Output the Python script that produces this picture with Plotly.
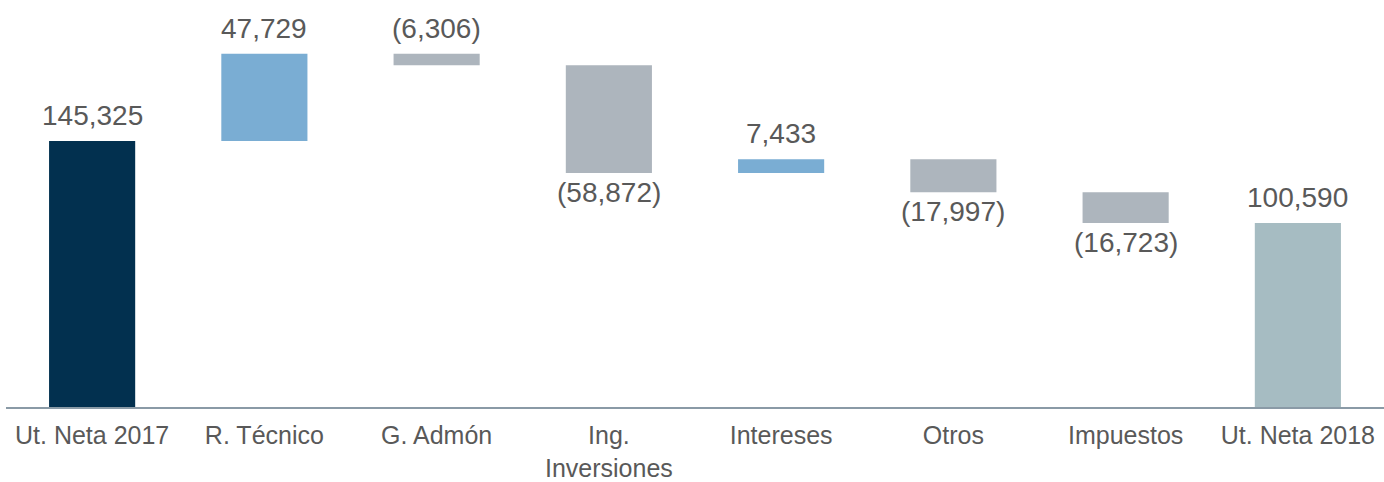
import plotly.graph_objects as go

categories = ["Ut. Neta 2017", "R. Técnico", "G. Admón", "Ing.<br>Inversiones",
              "Intereses", "Otros", "Impuestos", "Ut. Neta 2018"]
values = [145325, 47729, -6306, -58872, 7433, -17997, -16723, 100590]
kinds = ["total", "delta", "delta", "delta", "delta", "delta", "delta", "total"]

# style
label_side = ["above", "above", "above", "below", "above", "below", "below", "above"]
C_START = "#02304F"
C_UP = "#7AADD3"
C_DOWN = "#ADB5BD"
C_END = "#A6BCC2"
TEXT = "#595959"
FONT = "Liberation Sans, Arial, sans-serif"

bases, heights, colors, tops, bottoms = [], [], [], [], []
running = 0
for i, (v, k) in enumerate(zip(values, kinds)):
    if k == "total":
        b, h = 0, v
        running = v
        colors.append(C_START if i == 0 else C_END)
    else:
        b = min(running, running + v)
        h = abs(v)
        running += v
        colors.append(C_UP if v > 0 else C_DOWN)
    bases.append(b)
    heights.append(h)
    tops.append(b + h)
    bottoms.append(b)

def fmt(v):
    s = f"{abs(v):,}"
    return f"({s})" if v < 0 else s

fig = go.Figure()
fig.add_trace(go.Bar(
    x=categories, y=heights, base=bases, width=0.5,
    marker=dict(color=colors, line=dict(width=0)),
    hoverinfo="skip", showlegend=False,
))

for c, v, t, b, side in zip(categories, values, tops, bottoms, label_side):
    if side == "above":
        fig.add_annotation(x=c, y=t, text=fmt(v), showarrow=False,
                           yanchor="bottom", yshift=8,
                           font=dict(family=FONT, size=28, color=TEXT))
    else:
        fig.add_annotation(x=c, y=b, text=fmt(v), showarrow=False,
                           yanchor="top", yshift=-2,
                           font=dict(family=FONT, size=28, color=TEXT))

fig.update_layout(
    width=1384, height=482,
    margin=dict(l=6, r=0, t=10, b=75),
    paper_bgcolor="white", plot_bgcolor="white",
    bargap=0.5,
    xaxis=dict(
        automargin=False,
        showline=True, linecolor="#8A9AA6", linewidth=2,
        showgrid=False, zeroline=False,
        ticks="outside", ticklen=5, tickcolor="rgba(0,0,0,0)",
        tickfont=dict(family=FONT, size=25, color=TEXT),
    ),
    yaxis=dict(range=[0, 216893], visible=False, showgrid=False, zeroline=False,
               automargin=False),
)

fig.write_html("out.html",
               config={"displayModeBar": False},
               post_script="document.body.style.margin='0';document.body.style.overflow='hidden';")
